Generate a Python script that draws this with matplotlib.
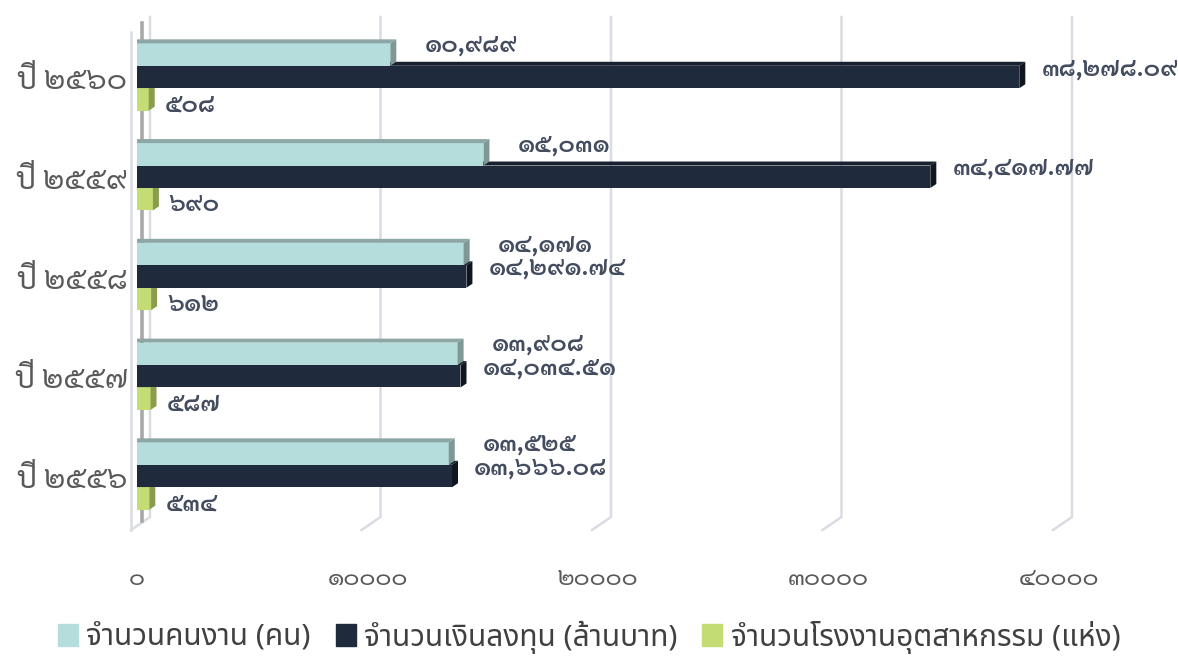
import matplotlib
matplotlib.use("Agg")
import matplotlib.pyplot as plt
from matplotlib.patches import Polygon, Patch

plt.rcParams['font.family'] = ['Noto Sans Thai', 'Sarabun', 'DejaVu Sans']
NUM_FONT = ['Sarabun', 'Noto Sans Thai', 'DejaVu Sans']

# data (top to bottom, as in the reference)
years = [2560, 2559, 2558, 2557, 2556]
workers = [10989, 15031, 14171, 13908, 13525]
invest = [38278.09, 34417.77, 14291.74, 14034.51, 13666.08]
factories = [508, 690, 612, 587, 534]
xticks = [0, 10000, 20000, 30000, 40000]
legend_labels = ["จำนวนคนงาน (คน)", "จำนวนเงินลงทุน (ล้านบาท)",
                 "จำนวนโรงงานอุตสาหกรรม (แห่ง)"]

THAI = str.maketrans("0123456789", "๐๑๒๓๔๕๖๗๘๙")


def th(s):
    return str(s).translate(THAI)


W, H = 1178, 657
fig = plt.figure(figsize=(W / 100, H / 100), dpi=100)
left, right, top, bottom = 137, 1100, 20, 530
ax = fig.add_axes([left / W, 1 - bottom / H, (right - left) / W, (bottom - top) / H])
xpx = 0.02305   # pixels per unit on x
ypx = 99.75     # pixels per category
n = len(years)
y0 = -(bottom - 476) / ypx
y1 = (n - 1) + (77 - top) / ypx
ax.set_xlim(0, (right - left) / xpx)
ax.set_ylim(y0, y1)
for s in ax.spines.values():
    s.set_visible(False)


def px_x(p):
    return p / xpx


def px_y(p):
    # pixel row -> data y
    return y1 - (p - top) / ypx


# back wall / floor
grid_c = '#D9DCE3'
for t in xticks:
    ax.plot([t + px_x(13), t + px_x(13), t - px_x(6)],
            [px_y(17), px_y(517), px_y(530)],
            color=grid_c, lw=1.8, clip_on=False, zorder=0)
ax.plot([-px_x(6)] * 2, [px_y(32), px_y(530)], color=grid_c, lw=1.8,
        clip_on=False, zorder=0)
ax.plot([px_x(4.5)] * 2, [px_y(23), px_y(521)], color='#A8A8A8', lw=2.6,
        clip_on=False, zorder=0)

# 3d bars
h = 0.225
ddx = px_x(6)
ddy = 4 / ypx
series = [
    (factories, -h, ('#C3DC73', '#A3B95E', '#8A9D4E')),
    (invest, 0.0, ('#1F2B3D', '#18212F', '#0F1620')),
    (workers, h, ('#B4DDDC', '#8DA7A6', '#7F9896')),
]
pos = [n - 1 - i for i in range(n)]
z = 2
for i in range(n):
    for vals, off, (cf, ct, cs) in series:
        yc = pos[i] + off
        w = vals[i]
        ax.barh(yc, w, height=h, color=cf, zorder=z)
        yt = yc + h / 2
        yb = yc - h / 2
        ax.add_patch(Polygon([(0, yt), (w, yt), (w + ddx, yt + ddy), (0, yt + ddy)],
                             closed=True, fc=ct, ec='none', zorder=z))
        ax.add_patch(Polygon([(w, yb), (w, yt), (w + ddx, yt + ddy), (w + ddx, yb + ddy)],
                             closed=True, fc=cs, ec='none', zorder=z))
        z += 1

# value labels
lab_kw = dict(textcoords='offset points', ha='left', va='center', fontsize=18,
              fontweight='semibold', color='#434D5F', zorder=50, family=NUM_FONT)
for i in range(n):
    ax.annotate(th(f"{workers[i]:,}"), xy=(workers[i], pos[i] + h),
                xytext=(34 / 1.389, 9 / 1.389), **lab_kw)
    ax.annotate(th(f"{invest[i]:,.2f}"), xy=(invest[i], pos[i]),
                xytext=(22 / 1.389, 8 / 1.389), **lab_kw)
    ax.annotate(th(f"{factories[i]}"), xy=(factories[i], pos[i] - h),
                xytext=(16 / 1.389, -6 / 1.389), **lab_kw)

# axes ticks
ax.set_xticks(xticks)
ax.set_xticklabels([th(t) for t in xticks], fontsize=17.5, color='#595959',
                   family=NUM_FONT)
ax.set_yticks(pos)
ax.set_yticklabels(["ปี " + th(y) for y in years], fontsize=22, color='#595959',
                   family=NUM_FONT)
ax.tick_params(axis='x', length=0, pad=26)
ax.tick_params(axis='y', length=0, pad=7)

# legend
handles = [Patch(color=c) for c in ('#B4DDDC', '#1F2B3D', '#C3DC73')]
fig.legend(handles, legend_labels, loc='center', bbox_to_anchor=(0.5, 1 - 637 / H),
           ncol=3, frameon=False, fontsize=21.5, labelcolor='#404040',
           handlelength=0.67, handleheight=0.73, handletextpad=0.27,
           columnspacing=0.85)

fig.savefig("out.png", dpi=100, facecolor='white')
